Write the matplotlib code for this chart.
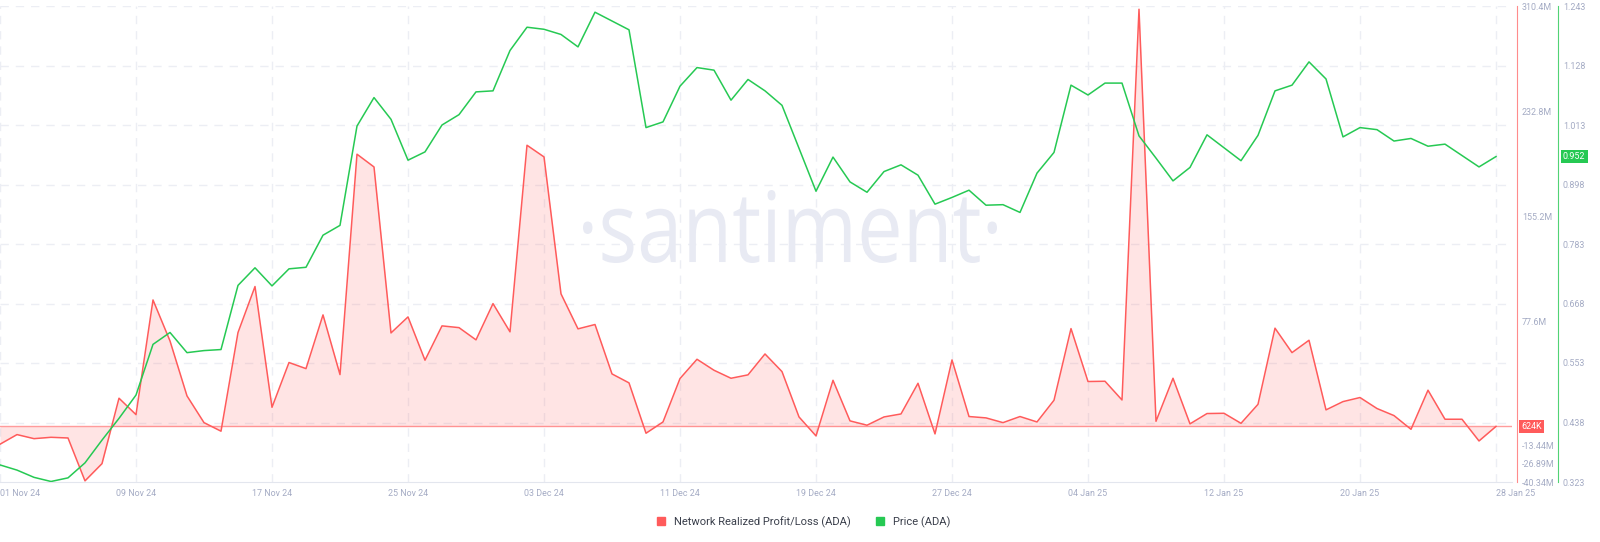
import numpy as np
import pandas as pd
import matplotlib
matplotlib.use('Agg')
import matplotlib.pyplot as plt
from matplotlib.lines import Line2D
from matplotlib.textpath import TextPath
from matplotlib.patches import PathPatch
from matplotlib.font_manager import FontProperties
from matplotlib.transforms import Affine2D

plt.rcParams['font.family'] = ['Roboto', 'DejaVu Sans']

# ── data (daily 01 Nov 24 .. 28 Jan 25) ─────────────────────────────────
dates = pd.date_range('2024-11-01', '2025-01-28', freq='D')

# Network Realized Profit/Loss (ADA), millions
profit_loss_m = [
    -12.5, -5.4, -8.4, -7.4, -7.9, -39.5, -26.8, 21.4, 9.3, 93.8,
    63.6, 23.1, 3.4, -2.9, 69.8, 103.7, 14.7, 47.7, 43.2, 82.8,
    38.8, 201.2, 191.8, 69.5, 81.3, 49.4, 74.7, 73.4, 64.4, 91.1,
    70.3, 207.8, 199.2, 98.3, 72.5, 75.7, 39.3, 32.7, -4.4, 3.9,
    35.9, 50.1, 42.0, 36.1, 38.6, 54.0, 41.0, 7.6, -6.4, 34.6,
    4.7, 1.5, 7.6, 9.8, 32.4, -4.9, 49.6, 7.9, 6.9, 3.4,
    7.9, 3.9, 19.9, 72.7, 33.7, 33.9, 20.1, 308.0, 4.4, 36.1,
    2.5, 10.1, 10.3, 2.9, 16.9, 73.0, 55.0, 64.1, 12.8, 18.9,
    21.9, 13.8, 8.6, -1.5, 27.3, 5.9, 5.9, -10.1, 0.624,
]

# Price (ADA), USD
price = [
    0.356, 0.346, 0.332, 0.324, 0.331, 0.360, 0.404, 0.446, 0.491, 0.589,
    0.612, 0.573, 0.577, 0.579, 0.703, 0.737, 0.702, 0.735, 0.738, 0.800,
    0.819, 1.011, 1.066, 1.024, 0.945, 0.961, 1.013, 1.033, 1.077, 1.079,
    1.157, 1.202, 1.198, 1.188, 1.164, 1.231, 1.214, 1.197, 1.008, 1.019,
    1.088, 1.124, 1.119, 1.061, 1.101, 1.079, 1.051, 0.968, 0.885, 0.951,
    0.903, 0.883, 0.923, 0.936, 0.916, 0.860, 0.873, 0.887, 0.858, 0.859,
    0.844, 0.920, 0.960, 1.090, 1.071, 1.094, 1.094, 0.992, 0.949, 0.905,
    0.931, 0.994, 0.969, 0.944, 0.993, 1.079, 1.090, 1.135, 1.102, 0.990,
    1.008, 1.004, 0.982, 0.987, 0.972, 0.976, 0.954, 0.932, 0.952,
]

pl_ticks = [310.4, 232.8, 155.2, 77.6, -13.44, -26.89, -40.34]
pl_tick_labels = ['310.4M', '232.8M', '155.2M', '77.6M', '-13.44M', '-26.89M', '-40.34M']
price_ticks = [1.243, 1.128, 1.013, 0.898, 0.783, 0.668, 0.553, 0.438, 0.323]
x_tick_dates = pd.to_datetime(['2024-11-01', '2024-11-09', '2024-11-17', '2024-11-25',
                               '2024-12-03', '2024-12-11', '2024-12-19', '2024-12-27',
                               '2025-01-04', '2025-01-12', '2025-01-20', '2025-01-28'])

# ── styling ──────────────────────────────────────────────────────────────
RED = '#ff5b5b'
GREEN = '#26c953'
LABEL = '#a4abc4'
GRID = '#eceef4'
W, H = 1600, 542

pl_lo, pl_hi = -40.34, 310.4
pr_lo, pr_hi = 0.323, 1.243

fig = plt.figure(figsize=(W / 100, H / 100), dpi=100)
ax = fig.add_axes([0, 60 / H, 1512 / W, 476 / H])
axp = ax.twinx()

# watermark, squeezed to the logo's proportions
tp = TextPath((0, 0), '\u00b7santiment\u00b7', size=100,
              prop=FontProperties(family='Open Sans'))
ext = tp.get_extents()
sx = (997 - 583) / ext.width
sy = (263 - 190) / ext.height
wm_tr = (Affine2D().translate(-ext.x0, -ext.y0).scale(sx / W, sy / H)
         .translate(583 / W, (H - 263) / H) + fig.transFigure)
ax.add_patch(PathPatch(tp, transform=wm_tr, fc='#e8eaf3', ec='none', zorder=1))

# red series
ax.plot(dates, profit_loss_m, color=RED, lw=1.1, zorder=3)
ax.fill_between(dates, profit_loss_m, profit_loss_m[-1], color=RED, alpha=0.16,
                lw=0, zorder=2)
ax.axhline(profit_loss_m[-1], color=RED, alpha=0.6, lw=1.0, zorder=2)
ax.set_ylim(pl_lo, pl_hi)
ax.set_xlim(dates[0], dates[0] + pd.Timedelta(days=1512 / 17))

# gridlines follow the price axis ticks
for p in price_ticks[:-1]:
    yv = pl_lo + (p - pr_lo) / (pr_hi - pr_lo) * (pl_hi - pl_lo)
    ax.axhline(yv, color=GRID, lw=1.0, ls=(0, (6, 5)), zorder=0)
for d in x_tick_dates:
    ax.axvline(d, color=GRID, lw=1.0, ls=(0, (6, 5)), zorder=0)

# green series
axp.plot(dates, price, color=GREEN, lw=1.1, zorder=3)
axp.set_ylim(pr_lo, pr_hi)

# ── axes cosmetics ───────────────────────────────────────────────────────
for s in ['top', 'left']:
    ax.spines[s].set_visible(False)
    axp.spines[s].set_visible(False)
axp.spines['bottom'].set_visible(False)
ax.spines['bottom'].set_color('#e3e6ee')
ax.spines['right'].set_position(('outward', 3.6))
ax.spines['right'].set_color(RED)
ax.spines['right'].set_alpha(0.7)
axp.spines['right'].set_position(('outward', 33.1))
axp.spines['right'].set_color(GREEN)
axp.spines['right'].set_alpha(0.8)

ax.yaxis.tick_right()
ax.set_yticks(pl_ticks)
ax.set_yticklabels(pl_tick_labels)
ax.tick_params(axis='y', length=0, pad=3.6, labelsize=6.4, labelcolor=LABEL)
axp.set_yticks(price_ticks)
axp.set_yticklabels([f'{p:.3f}' for p in price_ticks])
axp.tick_params(axis='y', length=0, pad=3.6, labelsize=6.4, labelcolor=LABEL)

ax.set_xticks(x_tick_dates)
ax.set_xticklabels([d.strftime('%d %b %y') for d in x_tick_dates])
ax.tick_params(axis='x', length=0, pad=5, labelsize=6.4, labelcolor=LABEL)
xl = ax.get_xticklabels()
xl[0].set_ha('left')
xl[-1].set_ha('left')

# last-value tags
ax.annotate('624K', xy=(1, profit_loss_m[-1]), xycoords=('axes fraction', 'data'),
            xytext=(6.5, 0), textcoords='offset points', ha='left', va='center',
            fontsize=6.4, color='white', annotation_clip=False,
            bbox=dict(boxstyle='square,pad=0.25', fc=RED, ec='none'))
axp.annotate(f'{price[-1]:.3f}', xy=(1, price[-1]), xycoords=('axes fraction', 'data'),
             xytext=(36.7, 0), textcoords='offset points', ha='left', va='center',
             fontsize=6.4, color='white', annotation_clip=False,
             bbox=dict(boxstyle='square,pad=0.25', fc=GREEN, ec='none'))

# legend
handles = [Line2D([], [], ls='none', marker='s', markersize=6, color=RED),
           Line2D([], [], ls='none', marker='s', markersize=6, color=GREEN)]
fig.legend(handles, ['Network Realized Profit/Loss (ADA)', 'Price (ADA)'],
           loc='center', bbox_to_anchor=(800 / W, 20 / H), ncol=2, frameon=False,
           fontsize=8, handletextpad=0.2, columnspacing=1.6, labelcolor='#3a3f4b')

fig.savefig('out.png', dpi=100, facecolor='white')
